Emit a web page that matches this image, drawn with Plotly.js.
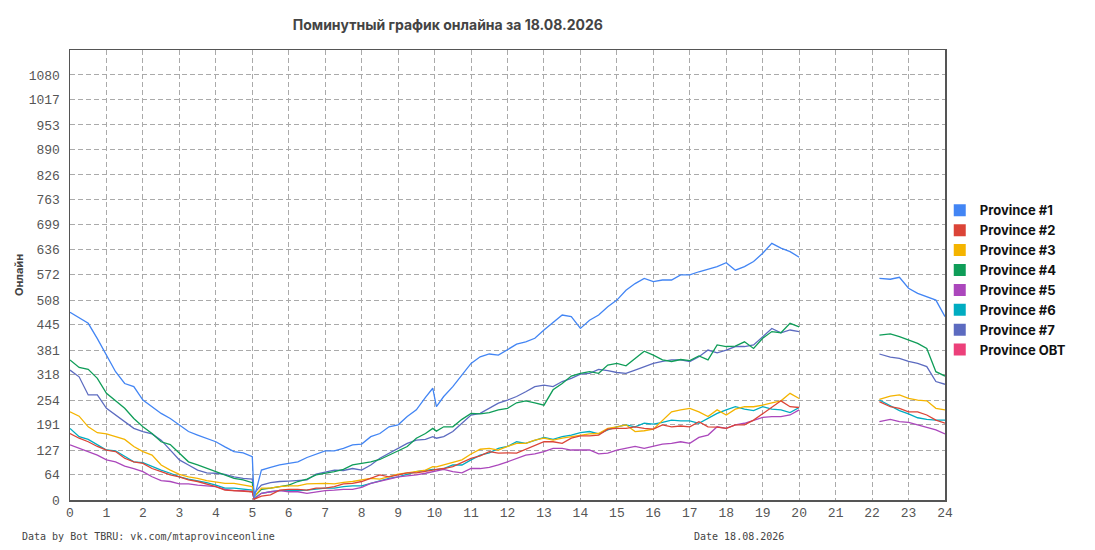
<!DOCTYPE html>
<html>
<head>
<meta charset="utf-8">
<script src="https://cdn.plot.ly/plotly-3.0.1.min.js"></script>
<style>
  html, body { margin: 0; padding: 0; background: #fff; }
  #chart { width: 1095px; height: 550px; }
</style>
</head>
<body>
<div id="chart"></div>
<script>
// hours of the day (main block, then late block after the gap)
var hoursDay = [0, 0.25, 0.5, 0.75, 1, 1.25, 1.5, 1.75, 2, 2.25, 2.5, 2.75, 3, 3.25, 3.5, 3.75, 4, 4.25, 4.5, 4.75, 5,
  5.05,
  5.25, 5.5, 5.75, 6, 6.25, 6.5, 6.75, 7, 7.25, 7.5, 7.75, 8, 8.25, 8.5, 8.75, 9, 9.25, 9.5, 9.75,
  9.95, 10.05,
  10.25, 10.5, 10.75, 11, 11.25, 11.5, 11.75, 12, 12.25, 12.5, 12.75, 13, 13.25, 13.5, 13.75, 14,
  14.25, 14.5, 14.75, 15, 15.25, 15.5, 15.75, 16, 16.25, 16.5, 16.75, 17, 17.25, 17.5, 17.75, 18,
  18.25, 18.5, 18.75, 19, 19.25, 19.5, 19.75, 20];
var hoursLate = [22.2, 22.5, 22.75, 23, 23.25, 23.5, 23.75, 24];

var p1Day = [477, 462, 449, 410, 368, 326, 296, 288, 254, 237, 220, 207, 191, 174, 165, 157, 148, 135, 123, 120, 110,
  5,
  76, 83, 89, 93, 97, 108, 117, 125, 125, 131, 140, 142, 161, 169, 186, 191, 212, 229, 261,
  284, 237,
  263, 288, 318, 347, 364, 371, 368, 381, 396, 402, 411, 432, 451, 470, 466, 436,
  457, 470, 491, 508, 533, 550, 563, 555, 559, 559, 572, 572, 580, 586, 593, 603,
  584, 593, 606, 627, 652, 640, 631, 617];
var p1Late = [563, 561, 566, 538, 525, 517, 508, 466];

var p2Day = [169, 157, 148, 136, 127, 123, 106, 97, 93, 80, 72, 64, 59, 51, 47, 41, 34, 25, 24, 23, 21,
  2,
  10, 13, 25, 27, 27, 25, 30, 30, 34, 41, 42, 47, 55, 64, 59, 64, 69, 69, 72,
  76, 78,
  80, 85, 95, 106, 112, 123, 119, 120, 119, 129, 140, 148, 148, 144, 157, 163,
  163, 165, 180, 182, 182, 186, 182, 180, 191, 186, 188, 186, 199, 186, 185, 182,
  191, 191, 203, 220, 237, 252, 237, 235];
var p2Late = [250, 237, 233, 224, 224, 216, 203, 195];

var p3Day = [224, 213, 186, 171, 168, 161, 154, 136, 123, 114, 89, 76, 65, 59, 55, 49, 45, 42, 42, 38, 34,
  8,
  30, 30, 34, 36, 36, 41, 42, 42, 41, 45, 47, 51, 55, 53, 59, 66, 69, 72, 76,
  85, 84,
  89, 95, 102, 117, 129, 131, 127, 136, 144, 144, 152, 157, 152, 157, 161, 165,
  168, 169, 182, 186, 191, 174, 176, 180, 203, 224, 229, 233, 224, 212, 229, 216,
  231, 237, 237, 241, 247, 252, 271, 258];
var p3Late = [256, 264, 267, 258, 254, 252, 233, 229];

var p4Day = [356, 337, 332, 309, 271, 252, 233, 207, 186, 169, 148, 141, 119, 97, 89, 80, 72, 64, 55, 51, 44,
  8,
  27, 30, 34, 38, 47, 53, 64, 68, 72, 78, 89, 93, 97, 103, 114, 127, 136, 157, 169,
  182, 175,
  186, 186, 205, 220, 219, 222, 229, 233, 247, 252, 247, 241, 280, 296, 315, 322,
  326, 322, 343, 347, 341, 360, 378, 368, 356, 352, 357, 354, 366, 356, 394, 390,
  391, 402, 385, 411, 428, 425, 449, 440];
var p4Late = [419, 422, 415, 407, 398, 385, 326, 315];

var p5Day = [140, 131, 123, 114, 102, 97, 86, 80, 72, 59, 49, 47, 41, 41, 38, 36, 34, 27, 24, 24, 21,
  2,
  17, 21, 24, 21, 21, 17, 21, 24, 25, 27, 27, 32, 42, 47, 53, 59, 61, 64, 68,
  72, 74,
  78, 72, 69, 80, 80, 83, 89, 97, 106, 114, 117, 123, 131, 131, 127, 127,
  127, 117, 119, 127, 131, 136, 131, 136, 142, 144, 148, 144, 159, 165, 186, 182,
  191, 195, 203, 210, 212, 212, 216, 229];
var p5Late = [199, 205, 199, 197, 191, 185, 178, 168];

var p6Day = [182, 161, 154, 140, 127, 125, 110, 97, 95, 85, 76, 68, 59, 53, 49, 44, 38, 30, 30, 27, 25,
  4,
  17, 21, 24, 25, 24, 25, 27, 30, 30, 34, 36, 36, 42, 48, 55, 59, 66, 72, 75,
  78, 77,
  80, 89, 89, 102, 114, 120, 131, 136, 148, 144, 152, 159, 154, 161, 165, 171,
  174, 168, 178, 186, 191, 186, 195, 193, 197, 203, 201, 201, 195, 208, 220, 229,
  237, 231, 227, 237, 231, 229, 222, 235];
var p6Late = [254, 239, 227, 219, 209, 205, 203, 203];

var p7Day = [330, 313, 267, 267, 233, 216, 199, 182, 174, 168, 152, 127, 102, 89, 76, 69, 68, 65, 59, 55, 53,
  17,
  38, 44, 47, 48, 49, 51, 66, 71, 76, 75, 80, 76, 89, 106, 119, 131, 144, 152, 154,
  161, 157,
  161, 174, 195, 216, 220, 233, 246, 254, 263, 275, 288, 292, 288, 301, 309, 320,
  322, 332, 329, 324, 322, 330, 339, 347, 352, 356, 356, 352, 364, 381, 374, 381,
  390, 390, 394, 415, 436, 425, 432, 428];
var p7Late = [371, 363, 360, 352, 347, 339, 301, 294];

var names = ['Province #1', 'Province #2', 'Province #3', 'Province #4', 'Province #5', 'Province #6', 'Province #7', 'Province OBT'];
var colors = ['#4285F4', '#DB4437', '#F4B400', '#0F9D58', '#AB47BC', '#00ACC1', '#5C6BC0', '#EC407A'];
var dayValues = [p1Day, p2Day, p3Day, p4Day, p5Day, p6Day, p7Day, []];
var lateValues = [p1Late, p2Late, p3Late, p4Late, p5Late, p6Late, p7Late, []];

var yTicks = [0, 64, 127, 191, 254, 318, 381, 445, 508, 572, 636, 699, 763, 826, 890, 953, 1017, 1080];
var xTicks = [];
for (var h = 0; h <= 24; h++) xTicks.push(h);

var hours = hoursDay.concat([null], hoursLate);

var data = [];
// lines (drawn in reverse so Province #1 ends up on top)
for (var i = names.length - 1; i >= 0; i--) {
  var ys = dayValues[i].length ? dayValues[i].concat([null], lateValues[i]) : [];
  data.push({
    type: 'scatter',
    mode: 'lines',
    x: dayValues[i].length ? hours : [],
    y: ys,
    name: names[i],
    line: {color: colors[i], width: 1.3},
    connectgaps: false,
    showlegend: false
  });
}
// square legend entries
for (var j = 0; j < names.length; j++) {
  data.push({
    type: 'scatter',
    mode: 'markers',
    x: [null],
    y: [null],
    name: names[j],
    marker: {symbol: 'square', size: 12, color: colors[j]},
    showlegend: true
  });
}

var tickFont = {family: '"Liberation Mono", "DejaVu Sans Mono", monospace', size: 13, color: '#555'};

var layout = {
  width: 1095,
  height: 550,
  paper_bgcolor: '#fff',
  plot_bgcolor: '#fff',
  margin: {l: 70, r: 150, t: 50, b: 50, pad: 0},
  title: {
    text: 'Поминутный график онлайна за 18.08.2026',
    x: 0.409, xref: 'container', xanchor: 'center',
    y: 0.955, yref: 'container', yanchor: 'middle',
    font: {family: 'Inter, "Noto Sans", sans-serif', size: 14, color: '#444', weight: 700}
  },
  xaxis: {
    range: [0, 24],
    tickvals: xTicks,
    showgrid: true,
    gridcolor: '#aaa',
    griddash: '5px,3px',
    gridwidth: 1,
    zeroline: false,
    showline: true,
    linecolor: '#555',
    linewidth: 1.5,
    mirror: true,
    ticks: '',
    tickfont: tickFont,
    fixedrange: true
  },
  yaxis: {
    range: [0, 1143.5],
    tickvals: yTicks,
    showgrid: true,
    gridcolor: '#aaa',
    griddash: '5px,3px',
    gridwidth: 1,
    zeroline: false,
    showline: true,
    linecolor: '#555',
    linewidth: 1.5,
    mirror: true,
    ticks: '',
    ticklabelstandoff: 6,
    tickfont: tickFont,
    title: {
      text: 'Онлайн',
      standoff: 3,
      font: {family: 'Inter, "Noto Sans", sans-serif', size: 11, color: '#444', weight: 700}
    },
    fixedrange: true
  },
  legend: {
    x: 0.994, xanchor: 'left',
    y: 0.677, yanchor: 'top',
    bgcolor: 'rgba(0,0,0,0)',
    font: {family: 'Inter, "Noto Sans", sans-serif', size: 13, color: '#111', weight: 700},
    traceorder: 'normal'
  },
  annotations: [
    {
      text: 'Data by Bot TBRU: vk.com/mtaprovinceonline',
      xref: 'paper', yref: 'paper',
      x: -0.0571, y: -0.082, xanchor: 'left', yanchor: 'middle',
      showarrow: false,
      font: {family: '"DejaVu Sans Mono", monospace', size: 10, color: '#444'}
    },
    {
      text: 'Date 18.08.2026',
      xref: 'paper', yref: 'paper',
      x: 0.711, y: -0.082, xanchor: 'left', yanchor: 'middle',
      showarrow: false,
      font: {family: '"DejaVu Sans Mono", monospace', size: 10, color: '#444'}
    }
  ]
};

Plotly.newPlot('chart', data, layout, {displayModeBar: false, staticPlot: true});
</script>
</body>
</html>
